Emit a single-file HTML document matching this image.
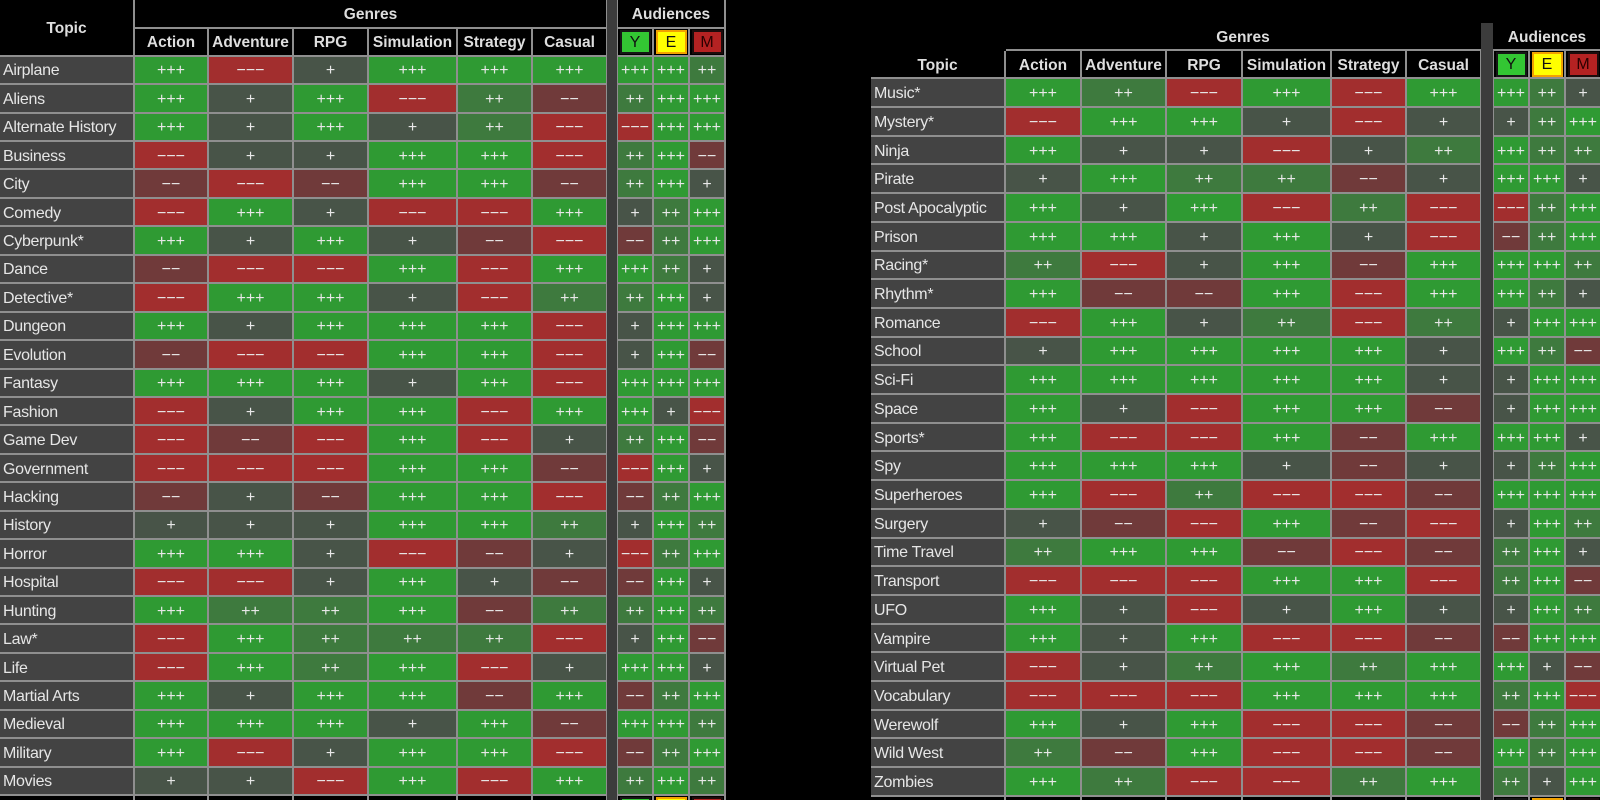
<!DOCTYPE html>
<html><head><meta charset="utf-8">
<style>
html,body{margin:0;padding:0;background:#000;width:1600px;height:800px;overflow:hidden;position:relative;font-family:"Liberation Sans",Arial,sans-serif;}
.g{position:absolute;display:grid;gap:2px;background:#8f8f8f;}
.g>div{display:flex;align-items:center;justify-content:center;font-size:16px;color:#e8e8e8;overflow:hidden;white-space:nowrap;box-sizing:border-box;padding-top:3px;}
.g>div.x{padding-top:0;}
.g>div.n{justify-content:flex-start;background:#434343;padding-left:3px;letter-spacing:-0.3px;color:#e6e6e6;}
.a{background:#2f9a33;}
.b{background:#3e7a3e;}
.c{background:#485448;}
.d{background:#703a3a;}
.e{background:#a22e2e;}
.g>div.h{background:#000;font-weight:bold;font-size:15.5px;color:#dedede;}
.g>div.k{background:#000;}
#lg{left:0;top:0;grid-template-columns:133px 72px 83px 73px 87px 73px 73px;grid-template-rows:26.7px 26px repeat(26,26.44px) 12px;padding-right:1px;}
#la{left:617px;top:0;grid-template-columns:34px 34px 34px;grid-template-rows:26.7px 26px repeat(26,26.44px) 12px;padding-left:1px;padding-right:2px;}
#rg{left:871px;top:51.3px;grid-template-columns:133px 74px 83px 74px 87px 73px 73px;grid-template-rows:26px repeat(25,26.71px) 12px;padding-right:1px;}
#ra{left:1493px;top:51.3px;grid-template-columns:34px 34px 34px;grid-template-rows:26px repeat(25,26.71px) 12px;padding-left:1px;}
.bar{position:absolute;background:#3c3c3c;}
.bd{display:flex;align-items:center;justify-content:center;box-sizing:border-box;border:2px solid;font-size:16px;color:#111;font-weight:normal;padding-top:2px;}
.by{background:#33c633;border-color:#161616;}
.be{background:#ffff00;border-color:#f2a200;}
.bm{background:#b42222;border-color:#1c0c0c;color:#2a0000;}
#la .bd{width:31px;height:24px;}
#ra .bd{width:31px;height:25px;}
.lbl{position:absolute;display:flex;align-items:center;justify-content:center;font-weight:bold;font-size:15.5px;color:#dedede;box-sizing:border-box;padding-top:3px;}
.ln{position:absolute;background:#8f8f8f;height:2px;}
</style></head><body>

<div class="bar" style="left:607px;top:0;width:10px;height:800px;"></div>
<div class="bar" style="left:1481px;top:23px;width:12px;height:777px;"></div>

<div id="lg" class="g">
<div class="h" style="grid-row:1/3">Topic</div>
<div class="h" style="grid-column:2/8">Genres</div>
<div class="h">Action</div><div class="h">Adventure</div><div class="h">RPG</div><div class="h">Simulation</div><div class="h">Strategy</div><div class="h">Casual</div>
<div class="n">Airplane</div><div class="a">+++</div><div class="e">−−−</div><div class="c">+</div><div class="a">+++</div><div class="a">+++</div><div class="a">+++</div>
<div class="n">Aliens</div><div class="a">+++</div><div class="c">+</div><div class="a">+++</div><div class="e">−−−</div><div class="b">++</div><div class="d">−−</div>
<div class="n">Alternate History</div><div class="a">+++</div><div class="c">+</div><div class="a">+++</div><div class="c">+</div><div class="b">++</div><div class="e">−−−</div>
<div class="n">Business</div><div class="e">−−−</div><div class="c">+</div><div class="c">+</div><div class="a">+++</div><div class="a">+++</div><div class="e">−−−</div>
<div class="n">City</div><div class="d">−−</div><div class="e">−−−</div><div class="d">−−</div><div class="a">+++</div><div class="a">+++</div><div class="d">−−</div>
<div class="n">Comedy</div><div class="e">−−−</div><div class="a">+++</div><div class="c">+</div><div class="e">−−−</div><div class="e">−−−</div><div class="a">+++</div>
<div class="n">Cyberpunk*</div><div class="a">+++</div><div class="c">+</div><div class="a">+++</div><div class="c">+</div><div class="d">−−</div><div class="e">−−−</div>
<div class="n">Dance</div><div class="d">−−</div><div class="e">−−−</div><div class="e">−−−</div><div class="a">+++</div><div class="e">−−−</div><div class="a">+++</div>
<div class="n">Detective*</div><div class="e">−−−</div><div class="a">+++</div><div class="a">+++</div><div class="c">+</div><div class="e">−−−</div><div class="b">++</div>
<div class="n">Dungeon</div><div class="a">+++</div><div class="c">+</div><div class="a">+++</div><div class="a">+++</div><div class="a">+++</div><div class="e">−−−</div>
<div class="n">Evolution</div><div class="d">−−</div><div class="e">−−−</div><div class="e">−−−</div><div class="a">+++</div><div class="a">+++</div><div class="e">−−−</div>
<div class="n">Fantasy</div><div class="a">+++</div><div class="a">+++</div><div class="a">+++</div><div class="c">+</div><div class="a">+++</div><div class="e">−−−</div>
<div class="n">Fashion</div><div class="e">−−−</div><div class="c">+</div><div class="a">+++</div><div class="a">+++</div><div class="e">−−−</div><div class="a">+++</div>
<div class="n">Game Dev</div><div class="e">−−−</div><div class="d">−−</div><div class="e">−−−</div><div class="a">+++</div><div class="e">−−−</div><div class="c">+</div>
<div class="n">Government</div><div class="e">−−−</div><div class="e">−−−</div><div class="e">−−−</div><div class="a">+++</div><div class="a">+++</div><div class="d">−−</div>
<div class="n">Hacking</div><div class="d">−−</div><div class="c">+</div><div class="d">−−</div><div class="a">+++</div><div class="a">+++</div><div class="e">−−−</div>
<div class="n">History</div><div class="c">+</div><div class="c">+</div><div class="c">+</div><div class="a">+++</div><div class="a">+++</div><div class="b">++</div>
<div class="n">Horror</div><div class="a">+++</div><div class="a">+++</div><div class="c">+</div><div class="e">−−−</div><div class="d">−−</div><div class="c">+</div>
<div class="n">Hospital</div><div class="e">−−−</div><div class="e">−−−</div><div class="c">+</div><div class="a">+++</div><div class="c">+</div><div class="d">−−</div>
<div class="n">Hunting</div><div class="a">+++</div><div class="b">++</div><div class="b">++</div><div class="a">+++</div><div class="d">−−</div><div class="b">++</div>
<div class="n">Law*</div><div class="e">−−−</div><div class="a">+++</div><div class="b">++</div><div class="b">++</div><div class="b">++</div><div class="e">−−−</div>
<div class="n">Life</div><div class="e">−−−</div><div class="a">+++</div><div class="b">++</div><div class="a">+++</div><div class="e">−−−</div><div class="c">+</div>
<div class="n">Martial Arts</div><div class="a">+++</div><div class="c">+</div><div class="a">+++</div><div class="a">+++</div><div class="d">−−</div><div class="a">+++</div>
<div class="n">Medieval</div><div class="a">+++</div><div class="a">+++</div><div class="a">+++</div><div class="c">+</div><div class="a">+++</div><div class="d">−−</div>
<div class="n">Military</div><div class="a">+++</div><div class="e">−−−</div><div class="c">+</div><div class="a">+++</div><div class="a">+++</div><div class="e">−−−</div>
<div class="n">Movies</div><div class="c">+</div><div class="c">+</div><div class="e">−−−</div><div class="a">+++</div><div class="e">−−−</div><div class="a">+++</div>
<div class="k"></div><div class="k"></div><div class="k"></div><div class="k"></div><div class="k"></div><div class="k"></div><div class="k"></div>
</div>

<div id="la" class="g">
<div class="h" style="grid-column:1/4">Audiences</div>
<div class="h x"><span class="bd by">Y</span></div><div class="h x"><span class="bd be">E</span></div><div class="h x"><span class="bd bm">M</span></div>
<div class="a">+++</div><div class="a">+++</div><div class="b">++</div>
<div class="b">++</div><div class="a">+++</div><div class="a">+++</div>
<div class="e">−−−</div><div class="a">+++</div><div class="a">+++</div>
<div class="b">++</div><div class="a">+++</div><div class="d">−−</div>
<div class="b">++</div><div class="a">+++</div><div class="c">+</div>
<div class="c">+</div><div class="b">++</div><div class="a">+++</div>
<div class="d">−−</div><div class="b">++</div><div class="a">+++</div>
<div class="a">+++</div><div class="b">++</div><div class="c">+</div>
<div class="b">++</div><div class="a">+++</div><div class="c">+</div>
<div class="c">+</div><div class="a">+++</div><div class="a">+++</div>
<div class="c">+</div><div class="a">+++</div><div class="d">−−</div>
<div class="a">+++</div><div class="a">+++</div><div class="a">+++</div>
<div class="a">+++</div><div class="c">+</div><div class="e">−−−</div>
<div class="b">++</div><div class="a">+++</div><div class="d">−−</div>
<div class="e">−−−</div><div class="a">+++</div><div class="c">+</div>
<div class="d">−−</div><div class="b">++</div><div class="a">+++</div>
<div class="c">+</div><div class="a">+++</div><div class="b">++</div>
<div class="e">−−−</div><div class="b">++</div><div class="a">+++</div>
<div class="d">−−</div><div class="a">+++</div><div class="c">+</div>
<div class="b">++</div><div class="a">+++</div><div class="b">++</div>
<div class="c">+</div><div class="a">+++</div><div class="d">−−</div>
<div class="a">+++</div><div class="a">+++</div><div class="c">+</div>
<div class="d">−−</div><div class="b">++</div><div class="a">+++</div>
<div class="a">+++</div><div class="a">+++</div><div class="b">++</div>
<div class="d">−−</div><div class="b">++</div><div class="a">+++</div>
<div class="b">++</div><div class="a">+++</div><div class="b">++</div>
<div class="h x" style="align-items:flex-start;padding-top:1px"><span class="bd by">Y</span></div><div class="h x" style="align-items:flex-start;padding-top:1px"><span class="bd be">E</span></div><div class="h x" style="align-items:flex-start;padding-top:1px"><span class="bd bm">M</span></div>
</div>

<div class="lbl" style="left:1006px;top:23px;width:474px;height:26px;">Genres</div>
<div class="lbl" style="left:1494px;top:23px;width:106px;height:26px;">Audiences</div>
<div class="ln" style="left:1006px;top:49.3px;width:475px;"></div>
<div class="ln" style="left:1493px;top:49.3px;width:107px;"></div>

<div id="rg" class="g">
<div class="h">Topic</div><div class="h">Action</div><div class="h">Adventure</div><div class="h">RPG</div><div class="h">Simulation</div><div class="h">Strategy</div><div class="h">Casual</div>
<div class="n">Music*</div><div class="a">+++</div><div class="b">++</div><div class="e">−−−</div><div class="a">+++</div><div class="e">−−−</div><div class="a">+++</div>
<div class="n">Mystery*</div><div class="e">−−−</div><div class="a">+++</div><div class="a">+++</div><div class="c">+</div><div class="e">−−−</div><div class="c">+</div>
<div class="n">Ninja</div><div class="a">+++</div><div class="c">+</div><div class="c">+</div><div class="e">−−−</div><div class="c">+</div><div class="b">++</div>
<div class="n">Pirate</div><div class="c">+</div><div class="a">+++</div><div class="b">++</div><div class="b">++</div><div class="d">−−</div><div class="c">+</div>
<div class="n">Post Apocalyptic</div><div class="a">+++</div><div class="c">+</div><div class="a">+++</div><div class="e">−−−</div><div class="b">++</div><div class="e">−−−</div>
<div class="n">Prison</div><div class="a">+++</div><div class="a">+++</div><div class="c">+</div><div class="a">+++</div><div class="c">+</div><div class="e">−−−</div>
<div class="n">Racing*</div><div class="b">++</div><div class="e">−−−</div><div class="c">+</div><div class="a">+++</div><div class="d">−−</div><div class="a">+++</div>
<div class="n">Rhythm*</div><div class="a">+++</div><div class="d">−−</div><div class="d">−−</div><div class="a">+++</div><div class="e">−−−</div><div class="a">+++</div>
<div class="n">Romance</div><div class="e">−−−</div><div class="a">+++</div><div class="c">+</div><div class="b">++</div><div class="e">−−−</div><div class="b">++</div>
<div class="n">School</div><div class="c">+</div><div class="a">+++</div><div class="a">+++</div><div class="a">+++</div><div class="a">+++</div><div class="c">+</div>
<div class="n">Sci-Fi</div><div class="a">+++</div><div class="a">+++</div><div class="a">+++</div><div class="a">+++</div><div class="a">+++</div><div class="c">+</div>
<div class="n">Space</div><div class="a">+++</div><div class="c">+</div><div class="e">−−−</div><div class="a">+++</div><div class="a">+++</div><div class="d">−−</div>
<div class="n">Sports*</div><div class="a">+++</div><div class="e">−−−</div><div class="e">−−−</div><div class="a">+++</div><div class="d">−−</div><div class="a">+++</div>
<div class="n">Spy</div><div class="a">+++</div><div class="a">+++</div><div class="a">+++</div><div class="c">+</div><div class="d">−−</div><div class="c">+</div>
<div class="n">Superheroes</div><div class="a">+++</div><div class="e">−−−</div><div class="b">++</div><div class="e">−−−</div><div class="e">−−−</div><div class="d">−−</div>
<div class="n">Surgery</div><div class="c">+</div><div class="d">−−</div><div class="e">−−−</div><div class="a">+++</div><div class="d">−−</div><div class="e">−−−</div>
<div class="n">Time Travel</div><div class="b">++</div><div class="a">+++</div><div class="a">+++</div><div class="d">−−</div><div class="e">−−−</div><div class="d">−−</div>
<div class="n">Transport</div><div class="e">−−−</div><div class="e">−−−</div><div class="e">−−−</div><div class="a">+++</div><div class="a">+++</div><div class="e">−−−</div>
<div class="n">UFO</div><div class="a">+++</div><div class="c">+</div><div class="e">−−−</div><div class="c">+</div><div class="a">+++</div><div class="c">+</div>
<div class="n">Vampire</div><div class="a">+++</div><div class="c">+</div><div class="a">+++</div><div class="e">−−−</div><div class="e">−−−</div><div class="d">−−</div>
<div class="n">Virtual Pet</div><div class="e">−−−</div><div class="c">+</div><div class="b">++</div><div class="a">+++</div><div class="b">++</div><div class="a">+++</div>
<div class="n">Vocabulary</div><div class="e">−−−</div><div class="e">−−−</div><div class="e">−−−</div><div class="a">+++</div><div class="a">+++</div><div class="a">+++</div>
<div class="n">Werewolf</div><div class="a">+++</div><div class="c">+</div><div class="a">+++</div><div class="e">−−−</div><div class="e">−−−</div><div class="d">−−</div>
<div class="n">Wild West</div><div class="b">++</div><div class="d">−−</div><div class="a">+++</div><div class="e">−−−</div><div class="e">−−−</div><div class="d">−−</div>
<div class="n">Zombies</div><div class="a">+++</div><div class="b">++</div><div class="e">−−−</div><div class="e">−−−</div><div class="b">++</div><div class="a">+++</div>
<div class="k"></div><div class="k"></div><div class="k"></div><div class="k"></div><div class="k"></div><div class="k"></div><div class="k"></div>
</div>

<div id="ra" class="g">
<div class="h x"><span class="bd by">Y</span></div><div class="h x"><span class="bd be">E</span></div><div class="h x"><span class="bd bm">M</span></div>
<div class="a">+++</div><div class="b">++</div><div class="c">+</div>
<div class="c">+</div><div class="b">++</div><div class="a">+++</div>
<div class="a">+++</div><div class="b">++</div><div class="b">++</div>
<div class="a">+++</div><div class="a">+++</div><div class="c">+</div>
<div class="e">−−−</div><div class="b">++</div><div class="a">+++</div>
<div class="d">−−</div><div class="b">++</div><div class="a">+++</div>
<div class="a">+++</div><div class="a">+++</div><div class="b">++</div>
<div class="a">+++</div><div class="b">++</div><div class="c">+</div>
<div class="c">+</div><div class="a">+++</div><div class="a">+++</div>
<div class="a">+++</div><div class="b">++</div><div class="d">−−</div>
<div class="c">+</div><div class="a">+++</div><div class="a">+++</div>
<div class="c">+</div><div class="a">+++</div><div class="a">+++</div>
<div class="a">+++</div><div class="a">+++</div><div class="c">+</div>
<div class="c">+</div><div class="b">++</div><div class="a">+++</div>
<div class="a">+++</div><div class="a">+++</div><div class="a">+++</div>
<div class="c">+</div><div class="a">+++</div><div class="b">++</div>
<div class="b">++</div><div class="a">+++</div><div class="c">+</div>
<div class="b">++</div><div class="a">+++</div><div class="d">−−</div>
<div class="c">+</div><div class="a">+++</div><div class="b">++</div>
<div class="d">−−</div><div class="a">+++</div><div class="a">+++</div>
<div class="a">+++</div><div class="c">+</div><div class="d">−−</div>
<div class="b">++</div><div class="a">+++</div><div class="e">−−−</div>
<div class="d">−−</div><div class="b">++</div><div class="a">+++</div>
<div class="a">+++</div><div class="b">++</div><div class="a">+++</div>
<div class="b">++</div><div class="c">+</div><div class="a">+++</div>
<div class="h x" style="align-items:flex-start;padding-top:1px"><span class="bd by">Y</span></div><div class="h x" style="align-items:flex-start;padding-top:1px"><span class="bd be">E</span></div><div class="h x" style="align-items:flex-start;padding-top:1px"><span class="bd bm">M</span></div>
</div>

</body></html>
